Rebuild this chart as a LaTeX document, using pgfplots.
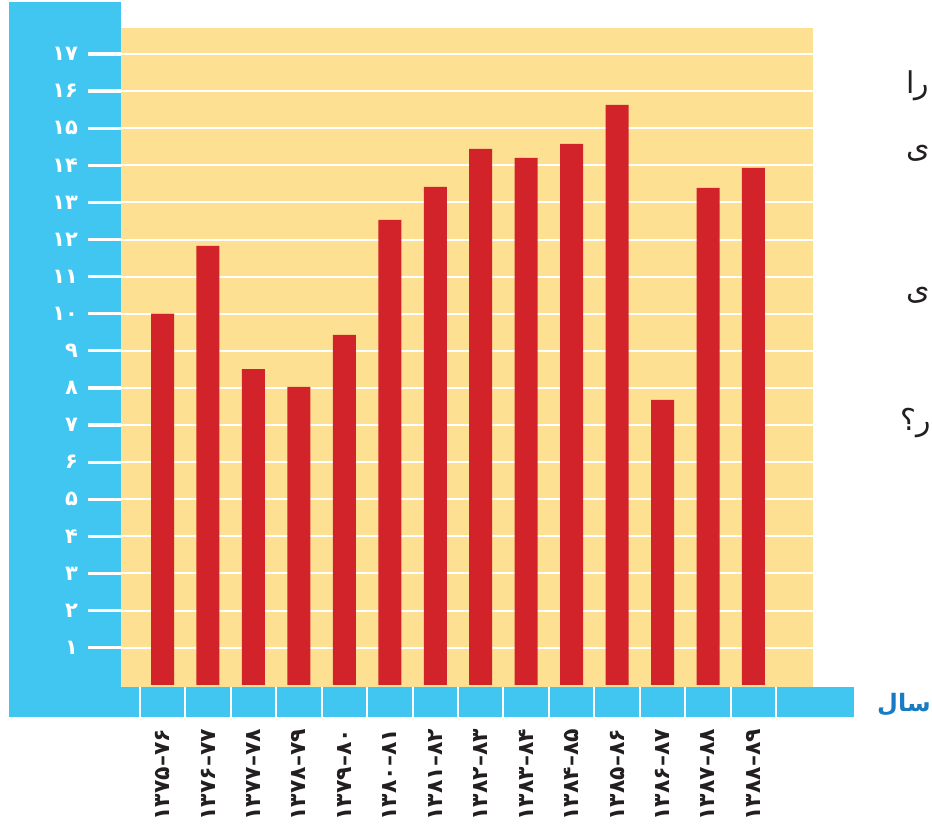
\documentclass[border=0pt]{standalone}
\usepackage{pgfplots}
\pgfplotsset{compat=1.18}
\usepackage{fontspec}
\setmainfont{DejaVu Sans}
\newfontfamily\fa[Script=Arabic]{DejaVu Sans}
\newfontfamily\fadig{DejaVu Sans}
\TeXXeTstate=1
\definecolor{skyb}{RGB}{65,198,242}
\definecolor{paleY}{RGB}{253,224,146}
\definecolor{barR}{RGB}{210,35,42}
\definecolor{salB}{RGB}{24,124,196}
\definecolor{txt}{RGB}{35,31,32}
\begin{document}
\begin{tikzpicture}
\useasboundingbox (0,0) rectangle (466pt,412.5pt);
\fill[skyb] (4.5pt,54.15pt) rectangle (60.5pt,411.5pt);
\fill[skyb] (4.5pt,54.15pt) rectangle (427pt,69.15pt);
\begin{axis}[
  at={(60.5pt,69.15pt)}, anchor=south west,
  scale only axis, width=345.85pt, height=329.35pt,
  xmin=0.087, xmax=15.303, ymin=-0.051, ymax=17.70,
  clip=false,
  axis background/.style={fill=paleY},
  axis line style={draw=none},
  ybar, bar width=11.5pt,
  ymajorgrids, grid style={white, line width=1pt},
  tick pos=left,
  tick align=outside, major tick length=16.5pt,
  ytick={1,...,17},
  yticklabels={۱,۲,۳,۴,۵,۶,۷,۸,۹,۱۰,۱۱,۱۲,۱۳,۱۴,۱۵,۱۶,۱۷},
  ytick style={white, line width=1.6pt},
  yticklabel shift=1.5pt,
  yticklabel style={font=\fadig\bfseries\fontsize{10.5}{11}\selectfont, text=white, anchor=east},
  xtick={1,...,14},
  xticklabels={{۱۳۷۵–۷۶},{۱۳۷۶–۷۷},{۱۳۷۷–۷۸},{۱۳۷۸–۷۹},{۱۳۷۹–۸۰},{۱۳۸۰–۸۱},{۱۳۸۱–۸۲},{۱۳۸۲–۸۳},{۱۳۸۳–۸۴},{۱۳۸۴–۸۵},{۱۳۸۵–۸۶},{۱۳۸۶–۸۷},{۱۳۸۷–۸۸},{۱۳۸۸–۸۹}},
  xtick style={draw=none},
  xticklabel shift=4.5pt,
  xticklabel style={rotate=90, anchor=east, inner sep=0pt, font=\fadig\bfseries\fontsize{11}{12}\selectfont, text=txt},
]
\addplot[fill=barR, draw=none] coordinates {
  (1,10.0) (2,11.83) (3,8.51) (4,8.03) (5,9.43) (6,12.53) (7,13.42)
  (8,14.44) (9,14.2) (10,14.58) (11,15.63) (12,7.68) (13,13.39) (14,13.93)
};
\pgfplotsinvokeforeach{0.5,1.5,2.5,3.5,4.5,5.5,6.5,7.5,8.5,9.5,10.5,11.5,12.5,13.5,14.5}{
  \draw[white, line width=1pt] (axis cs:#1,-0.051) -- ++(0pt,-15pt);
}
\end{axis}
\node[anchor=east, inner sep=0pt, text=salB, font=\fa\bfseries\fontsize{12}{14}\selectfont] at (465.5pt,60pt) {\beginR سال\endR};
\node[anchor=west, inner sep=0pt, text=txt, font=\fa\fontsize{15}{18}\selectfont] at (453pt,369.5pt) {\beginR را\endR};
\node[anchor=west, inner sep=0pt, text=txt, font=\fa\fontsize{15}{18}\selectfont] at (453pt,336pt) {\beginR ی\endR};
\node[anchor=west, inner sep=0pt, text=txt, font=\fa\fontsize{15}{18}\selectfont] at (453pt,265pt) {\beginR ی\endR};
\node[anchor=east, inner sep=0pt, text=txt, font=\fa\fontsize{15}{18}\selectfont] at (465.5pt,201pt) {\beginR ر؟\endR};
\end{tikzpicture}
\end{document}
